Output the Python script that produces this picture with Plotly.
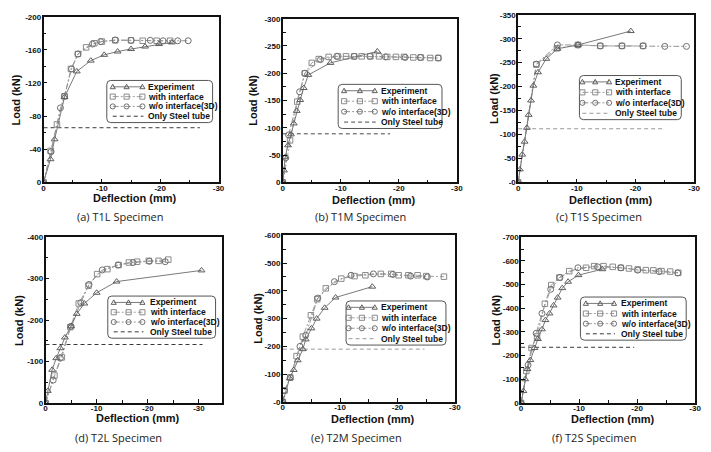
import plotly.graph_objects as go

W, H = 711, 452

# ---------------- data ----------------
panel_titles = ["(a) T1L Specimen", "(b) T1M Specimen", "(c) T1S Specimen",
                "(d) T2L Specimen", "(e) T2M Specimen", "(f) T2S Specimen"]
legend_labels = ["Experiment", "with interface", "w/o interface(3D)", "Only Steel tube"]
x_axis_title = "Deflection (mm)"
y_axis_title = "Load (kN)"

x_tick_vals = [0, -10, -20, -30]
x_tick_text = ["0", "-10", "-20", "-30"]

a_y_ticks = [0, -40, -80, -120, -160, -200]
b_y_ticks = [0, -50, -100, -150, -200, -250, -300]
c_y_ticks = [0, -50, -100, -150, -200, -250, -300, -350]
d_y_ticks = [0, -100, -200, -300, -400]
e_y_ticks = [0, -100, -200, -300, -400, -500, -600]
f_y_ticks = [0, -100, -200, -300, -400, -500, -600, -700]
a_y_text = ["0", "-40", "-80", "-120", "-160", "-200"]
b_y_text = ["0", "-50", "-100", "-150", "-200", "-250", "-300"]
c_y_text = ["-0", "-50", "-100", "-150", "-200", "-250", "-300", "-350"]
d_y_text = ["0", "-100", "-200", "-300", "-400"]
e_y_text = ["-0", "-100", "-200", "-300", "-400", "-500", "-600"]
f_y_text = ["0", "-100", "-200", "-300", "-400", "-500", "-600", "-700"]

# (a) T1L
a_exp_x = [0, -1.2, -1.9, -3.6, -5.7, -8.1, -10.4, -12.7, -15.0, -17.4, -19.8, -22.0]
a_exp_y = [0, -28, -52, -103, -134, -147, -154, -158, -161, -164, -167, -169]
a_wi_x = [0, -1.2, -2.3, -3.6, -4.7, -5.9, -7.3, -8.7, -10.0, -12.3, -15.0, -17.0, -19.4, -21.7]
a_wi_y = [0, -38, -70, -104, -137, -155, -163, -168, -170, -171.5, -171.5, -171, -171, -171]
a_wo_x = [0, -1.3, -2.9, -3.6, -4.8, -5.9, -8.4, -9.8, -12.3, -15.0, -18.3, -20.5, -23.0, -24.8]
a_wo_y = [0, -37, -90, -104, -137, -155, -167, -170, -172, -171.5, -171.5, -171, -171, -171]
a_steel_x = [0, -26.8]
a_steel_y = [-66, -66]

# (b) T1M
b_exp_x = [0, -0.2, -0.4, -0.9, -1.4, -1.9, -2.4, -3.0, -3.6, -4.4, -8.2, -16.3]
b_exp_y = [0, -22, -46, -68, -88, -108, -131, -151, -173, -197, -219, -240]
b_wi_x = [0, -1.25, -2.5, -3.8, -5.0, -6.2, -7.9, -9.5, -10.9, -12.3, -13.6, -15.1, -16.6,
          -18.0, -19.5, -20.9, -22.5, -23.8, -25.4, -26.8]
b_wi_y = [0, -77, -148, -200, -219, -226, -230, -231, -231, -231, -231, -231, -231,
          -230, -230, -230, -229, -229, -228, -228]
b_wo_x = [0, -0.5, -1.0, -2.9, -3.8, -6.5, -9.3, -12.3, -15.0, -17.7, -21.1, -23.7, -26.8]
b_wo_y = [0, -45, -87, -166, -200, -225, -231, -231, -231, -230, -229, -229, -228]
b_steel_x = [0, -18.5]
b_steel_y = [-89, -89]

# (c) T1S
c_exp_x = [0, -0.3, -0.7, -1.1, -1.5, -1.8, -2.2, -2.6, -3.4, -4.8, -6.7, -10.2, -19.2]
c_exp_y = [0, -27, -58, -85, -114, -141, -171, -202, -230, -258, -279, -287, -316]
c_wi_x = [0, -3.1, -6.6, -10.2, -14.0, -17.7, -21.3]
c_wi_y = [0, -246, -280, -287, -285, -285, -285]
c_wo_x = [0, -3.1, -6.7, -10.2, -14.0, -17.7, -21.3, -25.0, -28.7]
c_wo_y = [0, -247, -287, -287, -285, -285, -285, -284, -284]
c_steel_x = [0, -24.7]
c_steel_y = [-112, -112]

# (d) T2L
d_exp_x = [0, -0.45, -1.3, -2.1, -2.9, -3.8, -5.0, -6.1, -7.6, -10.0, -13.9, -30.5]
d_exp_y = [0, -29, -80, -108, -132, -158, -185, -215, -240, -266, -293, -320]
d_wi_x = [0, -1.75, -3.2, -4.85, -6.5, -8.4, -10.1, -12.1, -14.3, -16.3, -17.9, -20.2, -22.1, -24.0]
d_wi_y = [0, -66, -110, -183, -240, -283, -311, -323, -333, -339, -341, -343, -343, -346]
d_wo_x = [0, -1.5, -2.9, -5.0, -6.9, -8.5, -11.1, -14.2, -17.1, -20.3, -23.4]
d_wo_y = [0, -55, -108, -185, -242, -286, -321, -333, -339, -342, -341]
d_steel_x = [0, -30.7]
d_steel_y = [-141, -141]

# (e) T2M
e_exp_x = [0, -1.2, -1.9, -2.6, -3.5, -4.0, -5.0, -5.9, -7.3, -9.2, -15.6]
e_exp_y = [0, -85, -115, -150, -190, -225, -265, -300, -339, -376, -415]
e_wi_x = [0, -0.3, -1.3, -2.4, -3.5, -4.9, -6.0, -7.5, -10.2, -12.5, -14.4, -17.1, -18.9,
          -20.2, -21.9, -23.5, -25.0, -28.1]
e_wi_y = [0, -41, -88, -165, -235, -312, -370, -409, -444, -453, -456, -461, -461,
          -456, -456, -456, -453, -451]
e_wo_x = [0, -0.3, -1.3, -3.0, -4.0, -6.1, -9.0, -11.9, -15.8, -19.2, -22.3, -25.2]
e_wo_y = [0, -41, -88, -200, -240, -374, -433, -456, -461, -459, -453, -450]
e_steel_x = [0, -24.7]
e_steel_y = [-190, -190]

# (f) T2S
f_exp_x = [0, -0.4, -0.7, -1.1, -1.6, -2.3, -2.9, -3.6, -4.2, -4.9, -5.6, -6.3, -7.1, -8.1, -9.9, -14.0]
f_exp_y = [0, -50, -100, -143, -181, -232, -270, -311, -350, -378, -412, -445, -485, -512, -540, -565]
f_wi_x = [0, -0.9, -1.8, -2.75, -4.1, -5.2, -6.6, -8.3, -11.2, -12.6, -14.2, -15.8, -17.2,
          -18.6, -20.1, -21.5, -22.8, -24.2, -25.7, -27.1]
f_wi_y = [0, -135, -232, -281, -419, -498, -530, -557, -571, -578, -578, -575, -571,
          -568, -564, -561, -560, -557, -555, -550]
f_wo_x = [0, -1.2, -2.6, -3.6, -5.1, -6.7, -9.8, -13.2, -17.2, -20.1, -23.8, -27.0]
f_wo_y = [0, -160, -294, -378, -480, -530, -571, -575, -571, -561, -555, -549]
f_steel_x = [0, -19.5]
f_steel_y = [-235, -235]

series = [
    (a_exp_x, a_exp_y, a_wi_x, a_wi_y, a_wo_x, a_wo_y, a_steel_x, a_steel_y, a_y_ticks, a_y_text),
    (b_exp_x, b_exp_y, b_wi_x, b_wi_y, b_wo_x, b_wo_y, b_steel_x, b_steel_y, b_y_ticks, b_y_text),
    (c_exp_x, c_exp_y, c_wi_x, c_wi_y, c_wo_x, c_wo_y, c_steel_x, c_steel_y, c_y_ticks, c_y_text),
    (d_exp_x, d_exp_y, d_wi_x, d_wi_y, d_wo_x, d_wo_y, d_steel_x, d_steel_y, d_y_ticks, d_y_text),
    (e_exp_x, e_exp_y, e_wi_x, e_wi_y, e_wo_x, e_wo_y, e_steel_x, e_steel_y, e_y_ticks, e_y_text),
    (f_exp_x, f_exp_y, f_wi_x, f_wi_y, f_wo_x, f_wo_y, f_steel_x, f_steel_y, f_y_ticks, f_y_text),
]

# ---------------- layout / style ----------------
# plot boxes in pixels: x0, x1, y0(top), y1(bottom)
boxes = [(42, 219, 13, 182), (284, 460, 15, 182), (522, 700, 11, 182),
         (44, 223, 238, 407), (284, 458, 236, 406), (525, 701, 238, 407)]
x_max = [-30, -30, -30, -34.6, -30, -30]
y_minor = [20, 25, 25, 50, 50, 50]
steel_colors = ["#3a3a3a", "#4a4a4a", "#9a9a9a", "#3a3a3a", "#9a9a9a", "#3a3a3a"]
caption_pos = [(120, 217), (363, 217), (604, 217), (118, 442), (359, 442), (599, 442)]
xtitle_y = [197, 199, 199, 422, 423, 423]
ytitle_x = [14, 253, 497, 17, 259, 500]
# legend boxes: x0, y0, x1, y1 ; marker offsets ; text offset
leg_boxes = [(106, 78, 213, 121), (340, 82, 445, 127), (584, 73, 687, 118),
             (107, 298, 216, 341), (348, 303, 449, 348), (585, 299, 692, 343)]
leg_moffs = [(6, 20, 36), (6, 22, 37), (3, 16, 30), (6, 21, 35), (2.5, 16, 29), (5.5, 20, 34)]
leg_toff = [40, 41.5, 33.5, 40.5, 33, 39.5]

EXP_LINE = "#7a7a7a"
EXP_MK = "#5e5e5e"
WI_LINE = "#a0a0a0"
WI_MK = "#8a8a8a"
WO_LINE = "#959595"
WO_MK = "#6e6e6e"
DASHDOT = "6px,2px,2px,2px"
DASH = "4px,3px"

FAM = "Liberation Sans"
INK = "#111111"


def bold(t):
    return "<b>" + t + "</b>"


def px(x):
    return x / W


def py(y):
    return 1 - y / H


fig = go.Figure()
shapes = []
annotations = []

for i, (ex, ey, wx, wy, ox, oy, sx, sy, yt, ytt) in enumerate(series):
    k = "" if i == 0 else str(i + 1)
    xa, ya = "x" + k, "y" + k
    fig.add_trace(go.Scatter(x=sx, y=sy, mode="lines", xaxis=xa, yaxis=ya, showlegend=False,
                             line=dict(color=steel_colors[i], width=1, dash=DASH)))
    fig.add_trace(go.Scatter(x=wx, y=wy, mode="lines+markers", xaxis=xa, yaxis=ya, showlegend=False,
                             line=dict(color=WI_LINE, width=1, dash=DASHDOT),
                             marker=dict(symbol="square-open", size=5.5, color=WI_MK,
                                         line=dict(width=1, color=WI_MK))))
    fig.add_trace(go.Scatter(x=ox, y=oy, mode="lines+markers", xaxis=xa, yaxis=ya, showlegend=False,
                             line=dict(color=WO_LINE, width=1, dash=DASHDOT),
                             marker=dict(symbol="circle-open", size=6, color=WO_MK,
                                         line=dict(width=1, color=WO_MK))))
    fig.add_trace(go.Scatter(x=ex, y=ey, mode="lines+markers", xaxis=xa, yaxis=ya, showlegend=False,
                             line=dict(color=EXP_LINE, width=1),
                             marker=dict(symbol="triangle-up-open", size=6, color=EXP_MK,
                                         line=dict(width=1, color=EXP_MK))))

    x0, x1, y0, y1 = boxes[i]
    axis_common = dict(showgrid=False, zeroline=False, showline=True, linecolor=INK,
                       linewidth=1.5, mirror=True, ticks="inside", ticklen=4, tickwidth=1,
                       tickcolor=INK, tickfont=dict(family=FAM, size=8, color=INK))
    fig.layout["xaxis" + k] = dict(
        domain=[px(x0), px(x1)], anchor=ya, range=[0, x_max[i]],
        tickvals=x_tick_vals, ticktext=[bold(t) for t in x_tick_text], ticklabelstandoff=-3,
        minor=dict(dtick=5, tick0=0, ticks="inside", ticklen=3, tickcolor=INK, showgrid=False),
        **axis_common)
    fig.layout["yaxis" + k] = dict(
        domain=[py(y1), py(y0)], anchor=xa, range=[0, yt[-1]],
        tickvals=yt, ticktext=[bold(t) for t in ytt], ticklabelstandoff=-1,
        minor=dict(dtick=y_minor[i], tick0=0, ticks="inside", ticklen=3, tickcolor=INK,
                   showgrid=False),
        **axis_common)

    # axis titles and captions
    annotations.append(dict(text=bold(x_axis_title), xref="paper", yref="paper", x=px((x0 + x1) / 2 + 4),
                            y=py(xtitle_y[i] + 0.5), xanchor="center", yanchor="middle", showarrow=False,
                            font=dict(family=FAM, size=11, color=INK)))
    annotations.append(dict(text=bold(y_axis_title), xref="paper", yref="paper", x=px(ytitle_x[i]),
                            y=py((y0 + y1) / 2), xanchor="center", yanchor="middle", showarrow=False,
                            textangle=-90, font=dict(family=FAM, size=11, color=INK)))
    cx, cy = caption_pos[i]
    annotations.append(dict(text=panel_titles[i], xref="paper", yref="paper", x=px(cx), y=py(cy),
                            xanchor="center", yanchor="middle", showarrow=False,
                            font=dict(family="Open Sans", size=11, color="#222222")))

    # manual legend
    lx0, ly0, lx1, ly1 = leg_boxes[i]
    r = 4
    path = (f"M {px(lx0 + r)} {py(ly0)} L {px(lx1 - r)} {py(ly0)} "
            f"Q {px(lx1)} {py(ly0)} {px(lx1)} {py(ly0 + r)} L {px(lx1)} {py(ly1 - r)} "
            f"Q {px(lx1)} {py(ly1)} {px(lx1 - r)} {py(ly1)} L {px(lx0 + r)} {py(ly1)} "
            f"Q {px(lx0)} {py(ly1)} {px(lx0)} {py(ly1 - r)} L {px(lx0)} {py(ly0 + r)} "
            f"Q {px(lx0)} {py(ly0)} {px(lx0 + r)} {py(ly0)} Z")
    shapes.append(dict(type="path", path=path, xref="paper", yref="paper",
                       line=dict(color="#555555", width=1), fillcolor="white", layer="above"))
    step = (ly1 - ly0 - 13) / 3
    rows = [ly0 + 6.5 + step * j for j in range(4)]
    mo = leg_moffs[i]
    styles = [(EXP_LINE, None, EXP_MK, "tri"), (WI_LINE, DASHDOT, WI_MK, "sq"),
              (WO_LINE, DASHDOT, WO_MK, "circ")]
    for j, (lc, ld, mc, mk) in enumerate(styles):
        yy = rows[j]
        ln = dict(color=lc, width=1)
        if ld:
            ln["dash"] = ld
        shapes.append(dict(type="line", xref="paper", yref="paper", x0=px(lx0 + mo[0]), x1=px(lx0 + mo[2]),
                           y0=py(yy), y1=py(yy), line=ln, layer="above"))
        for m in mo:
            cxm = lx0 + m
            s = 2.6
            if mk == "tri":
                p = (f"M {px(cxm)} {py(yy - s)} L {px(cxm - s)} {py(yy + s * 0.75)} "
                     f"L {px(cxm + s)} {py(yy + s * 0.75)} Z")
                shapes.append(dict(type="path", path=p, xref="paper", yref="paper",
                                   line=dict(color=mc, width=1), fillcolor="rgba(0,0,0,0)", layer="above"))
            elif mk == "sq":
                shapes.append(dict(type="rect", xref="paper", yref="paper", x0=px(cxm - s), x1=px(cxm + s),
                                   y0=py(yy - s), y1=py(yy + s), line=dict(color=mc, width=1),
                                   fillcolor="rgba(0,0,0,0)", layer="above"))
            else:
                shapes.append(dict(type="circle", xref="paper", yref="paper", x0=px(cxm - s), x1=px(cxm + s),
                                   y0=py(yy - s), y1=py(yy + s), line=dict(color=mc, width=1),
                                   fillcolor="rgba(0,0,0,0)", layer="above"))
    shapes.append(dict(type="line", xref="paper", yref="paper", x0=px(lx0 + mo[0]), x1=px(lx0 + mo[2] + 1),
                       y0=py(rows[3]), y1=py(rows[3]),
                       line=dict(color=steel_colors[i], width=1, dash=DASH), layer="above"))
    for j in range(4):
        annotations.append(dict(text=bold(legend_labels[j]), xref="paper", yref="paper",
                                x=px(lx0 + leg_toff[i]), y=py(rows[j]), xanchor="left", yanchor="middle",
                                showarrow=False, font=dict(family=FAM, size=8.5, color=INK)))

fig.update_layout(width=W, height=H, margin=dict(l=0, r=0, t=0, b=0),
                  paper_bgcolor="white", plot_bgcolor="white",
                  shapes=shapes, annotations=annotations, showlegend=False)

fig.write_html("out.html")
